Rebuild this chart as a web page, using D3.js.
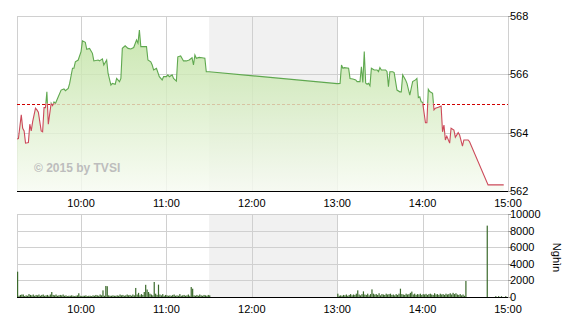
<!DOCTYPE html>
<html>
<head>
<meta charset="utf-8">
<script src="https://cdn.jsdelivr.net/npm/d3@7"></script>
<style>
  body { margin: 0; background: #fff; }
  text { font-family: "Liberation Sans", Arial, sans-serif; }
</style>
</head>
<body>
<div id="chart"></div>
<script>
// gia chi so theo phut (doc tu hinh)
const priceTimes = ["9:15","9:16","9:18","9:19","9:20","9:21","9:23","9:24","9:25","9:26","9:28","9:29","9:30","9:32","9:33","9:34","9:35","9:36","9:37","9:39","9:40","9:41","9:42","9:44","9:46","9:48","9:49","9:51","9:52","9:54","9:55","9:56","9:58",
  "10:00","10:01","10:03","10:04","10:06","10:08","10:09","10:12","10:13","10:15","10:16","10:18","10:19","10:21","10:22","10:24","10:25","10:27","10:28","10:29","10:31","10:33","10:35","10:37","10:39","10:40","10:41","10:42","10:44","10:46","10:47","10:49","10:50","10:51","10:53","10:55","10:57","10:58",
  "11:00","11:01","11:02","11:04","11:05","11:07","11:08","11:10","11:12","11:14","11:16","11:18","11:19","11:20","11:21","11:23","11:25","11:27","11:28","11:30",
  "13:00","13:02","13:03","13:04","13:05","13:08","13:09","13:11","13:13","13:14","13:16","13:17","13:18","13:19","13:20","13:21","13:22","13:23","13:24","13:26","13:28","13:29","13:30","13:31","13:34","13:35","13:36","13:37","13:39","13:40","13:42","13:44","13:45","13:46","13:48","13:49","13:51","13:52","13:53","13:55","13:56","13:57","13:58","13:59",
  "14:00","14:02","14:03","14:04","14:05","14:07","14:08","14:09","14:11","14:13","14:14","14:15","14:16","14:17","14:19","14:20","14:22","14:23","14:25","14:26","14:28","14:29","14:32","14:33","14:46","14:57"];
const prices = [563.78,563.80,564.61,564.15,564.06,563.64,563.66,564.29,564.06,564.38,564.84,564.78,564.70,564.06,564.03,564.86,564.86,565.40,564.29,565.01,564.93,565.05,565.00,565.23,565.46,565.50,565.44,565.52,565.69,566.21,566.21,566.43,566.49,
  566.78,567.15,567.10,566.86,566.89,566.72,566.46,566.49,566.46,566.53,566.32,566.49,566.03,565.63,565.69,565.66,565.86,565.75,565.86,566.89,566.98,566.89,566.87,566.92,567.18,567.07,567.52,566.95,566.95,566.95,566.49,566.43,566.32,566.15,566.21,565.92,565.81,565.92,
  565.92,565.98,565.92,565.98,565.86,565.77,566.60,566.63,566.46,566.46,566.49,566.57,566.32,566.66,566.55,566.58,566.57,566.55,566.09,566.09,
  565.68,565.69,566.32,566.21,566.23,566.21,565.86,565.84,565.81,565.75,565.75,566.26,565.72,566.78,565.70,565.66,565.69,565.61,566.21,566.15,566.15,566.09,566.23,566.15,566.15,566.09,565.58,566.09,566.09,566.06,565.46,565.40,565.40,565.98,565.81,565.69,565.29,565.52,565.75,565.81,565.86,565.20,565.23,565.06,
  565.04,564.34,564.34,565.49,565.41,565.35,564.78,564.84,564.87,564.91,564.03,564.26,563.75,563.88,563.64,564.15,564.09,563.84,564.00,563.92,563.54,563.75,563.75,563.69,562.21,562.21];
const refPrice = 565;

// khoi luong (nghin) moi phut
const volMorningStart = "9:15";
const volMorning = [3050,150,250,300,300,120,200,150,350,250,200,300,150,250,200,300,150,250,300,150,200,250,150,300,600,250,200,300,150,200,
  250,200,300,150,200,100,150,150,200,150,100,150,200,450,150,100,150,150,200,100,150,150,100,200,150,250,200,150,300,200,
  800,150,1330,1300,200,150,150,200,150,150,200,150,300,200,250,150,200,300,200,250,150,300,200,1090,300,500,200,350,250,600,
  1470,900,600,400,300,200,1810,400,250,1490,300,200,350,150,250,200,150,200,150,250,300,150,200,150,350,150,200,250,150,200,
  300,150,1200,1000,200,150,250,150,300,200,150,250,200,150,250,200];
const volAfternoonStart = "13:00";
const volAfternoon = [400,150,200,150,250,200,300,150,250,350,200,300,250,400,800,300,200,350,680,300,250,400,200,350,920,400,300,350,250,450,
  200,350,300,250,400,300,350,400,250,300,200,350,250,400,1000,350,300,250,400,300,350,500,650,300,400,250,350,300,400,250,
  350,300,380,250,350,400,300,250,450,300,350,250,400,300,350,250,400,300,350,450,300,500,350,450,300,250,350,200,300,150,1930];
const volLateTimes = ["14:45","14:51","14:53","14:55","14:58"];
const volLate = [8600,100,100,100,100];

const hourTicks = ["10:00","11:00","12:00","13:00","14:00","15:00"];
const priceTicks = [562,564,566,568];
const volTicks = [0,2000,4000,6000,8000,10000];
const breakStart = "11:30", breakEnd = "13:00";
const domainTimes = ["9:15","15:00"];

const parse = d3.timeParse("%H:%M");
const fmt = d3.timeFormat("%H:%M");

const W = 570, H = 320;
const left = 17, right = 508;
const top1 = 16, bot1 = 191;
const top2 = 214, bot2 = 297;

const svg = d3.select("#chart").append("svg")
  .attr("width", W).attr("height", H);

const x = d3.scaleTime()
  .domain(domainTimes.map(parse))
  .range([left, right]);
const y = d3.scaleLinear().domain([562, 568]).range([bot1, top1]);
const yv = d3.scaleLinear().domain([0, 10000]).range([bot2, top2]);

const priceData = priceTimes.map((t, i) => ({ t: parse(t), v: prices[i] }));

const volData = [];
const addVol = (start, arr) => {
  const s = parse(start);
  arr.forEach((v, i) => volData.push({ t: d3.timeMinute.offset(s, i), v: v }));
};
addVol(volMorningStart, volMorning);
addVol(volAfternoonStart, volAfternoon);
volLateTimes.forEach((t, i) => volData.push({ t: parse(t), v: volLate[i] }));

const defs = svg.append("defs");
const grad = defs.append("linearGradient")
  .attr("id", "areaGrad")
  .attr("gradientUnits", "userSpaceOnUse")
  .attr("x1", 0).attr("y1", top1).attr("x2", 0).attr("y2", bot1);
grad.append("stop").attr("offset", "0%").attr("stop-color", "#b9df98");
grad.append("stop").attr("offset", "100%").attr("stop-color", "#f7fbf2");

defs.append("clipPath").attr("id", "clipUp")
  .append("rect").attr("x", left).attr("y", top1 - 5)
  .attr("width", right - left).attr("height", y(refPrice) - top1 + 5);
defs.append("clipPath").attr("id", "clipDown")
  .append("rect").attr("x", left).attr("y", y(refPrice))
  .attr("width", right - left).attr("height", bot1 - y(refPrice) + 5);

// nen gio nghi trua
[[top1, bot1], [top2, bot2]].forEach(([a, b]) => {
  svg.append("rect")
    .attr("x", x(parse(breakStart)))
    .attr("y", a)
    .attr("width", x(parse(breakEnd)) - x(parse(breakStart)))
    .attr("height", b - a)
    .attr("fill", "#f1f1f1");
});

// luoi
const grid = svg.append("g").attr("stroke", "#d0d0d0").attr("stroke-width", 1);
hourTicks.forEach(t => {
  const xx = Math.round(x(parse(t))) + 0.5;
  grid.append("line").attr("x1", xx).attr("x2", xx).attr("y1", top1).attr("y2", bot1);
  grid.append("line").attr("x1", xx).attr("x2", xx).attr("y1", top2).attr("y2", bot2);
});
priceTicks.forEach(p => {
  const yy = Math.round(y(p)) + 0.5;
  grid.append("line").attr("x1", left).attr("x2", right).attr("y1", yy).attr("y2", yy);
});
volTicks.forEach(p => {
  const yy = Math.round(yv(p)) + 0.5;
  grid.append("line").attr("x1", left).attr("x2", right).attr("y1", yy).attr("y2", yy);
});
[[top1, bot1], [top2, bot2]].forEach(([a, b]) => {
  grid.append("line").attr("x1", left + 0.5).attr("x2", left + 0.5).attr("y1", a).attr("y2", b);
  grid.append("line").attr("x1", right + 0.5).attr("x2", right + 0.5).attr("y1", a).attr("y2", b);
});

// duong tham chieu
svg.append("line")
  .attr("x1", left).attr("x2", right)
  .attr("y1", Math.round(y(refPrice)) + 0.5).attr("y2", Math.round(y(refPrice)) + 0.5)
  .attr("stroke", "#d00000")
  .attr("stroke-dasharray", "3,2");

// vung gia
const area = d3.area()
  .x(d => x(d.t))
  .y0(bot1)
  .y1(d => y(d.v));
svg.append("path")
  .datum(priceData)
  .attr("d", area)
  .attr("fill", "url(#areaGrad)")
  .attr("fill-opacity", 0.82);

const line = d3.line()
  .x(d => x(d.t))
  .y(d => y(d.v));
svg.append("path")
  .datum(priceData)
  .attr("d", line)
  .attr("fill", "none")
  .attr("stroke", "#5fa84f")
  .attr("stroke-width", 1.1)
  .attr("clip-path", "url(#clipUp)");
svg.append("path")
  .datum(priceData)
  .attr("d", line)
  .attr("fill", "none")
  .attr("stroke", "#cc4a5a")
  .attr("stroke-width", 1.1)
  .attr("clip-path", "url(#clipDown)");

// watermark
svg.append("text")
  .attr("x", 34).attr("y", 172)
  .attr("fill", "#bdbdbd")
  .attr("font-size", 12)
  .attr("font-weight", "bold")
  .text("© 2015 by TVSI");

// cot khoi luong
svg.append("g")
  .selectAll("rect")
  .data(volData)
  .join("rect")
  .attr("x", d => x(d.t))
  .attr("width", 1.2)
  .attr("y", d => yv(d.v))
  .attr("height", d => bot2 - yv(d.v))
  .attr("fill", "#3b6a2c");

// truc x
[bot1, bot2].forEach(b => {
  svg.append("line")
    .attr("x1", left).attr("x2", right + 1)
    .attr("y1", b + 0.5).attr("y2", b + 0.5)
    .attr("stroke", "#000");
});
[[bot1 + 16], [bot2 + 16]].forEach(([ty]) => {
  svg.append("g")
    .selectAll("text")
    .data(hourTicks)
    .join("text")
    .attr("x", t => x(parse(t)))
    .attr("y", ty)
    .attr("text-anchor", "middle")
    .attr("font-size", 11)
    .attr("fill", "#000")
    .text(t => fmt(parse(t)));
});

// truc y ben phai
const rightAxis = (scale, ticks) => {
  const g = svg.append("g");
  ticks.forEach(v => {
    const yy = Math.round(scale(v)) + 0.5;
    g.append("line").attr("x1", right).attr("x2", right + 3)
      .attr("y1", yy).attr("y2", yy).attr("stroke", "#999");
    g.append("text")
      .attr("x", right + 2).attr("y", yy)
      .attr("dy", "0.35em")
      .attr("font-size", 11)
      .attr("fill", "#000")
      .text(v);
  });
};
rightAxis(y, priceTicks);
rightAxis(yv, volTicks);

svg.append("text")
  .attr("transform", `translate(553,${(top2 + bot2) / 2 + 2}) rotate(90)`)
  .attr("text-anchor", "middle")
  .attr("font-size", 11)
  .attr("fill", "#000")
  .text("Nghìn");
</script>
</body>
</html>
